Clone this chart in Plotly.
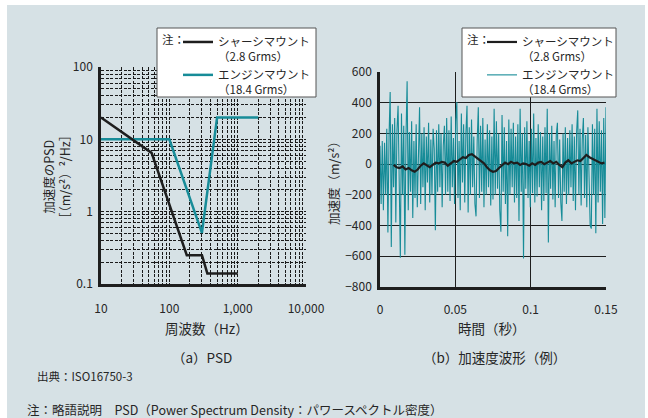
import plotly.graph_objects as go
import numpy as np

W, H = 648, 418


def px(x):
    return x / W


def py(y):
    return 1 - y / H


# ---------------- data ----------------
freq_chassis = [10, 55, 180, 300, 360, 1000]
psd_chassis = [20, 6.5, 0.25, 0.25, 0.14, 0.14]
freq_engine = [10, 100, 300, 500, 2000]
psd_engine = [10, 10, 0.51, 20, 20]

name_chassis = "シャーシマウント<br>（2.8 Grms）"
name_engine = "エンジンマウント<br>（18.4 Grms）"

psd_xticks = [10, 100, 1000, 10000]
psd_xticktext = ["10", "100", "1,000", "10,000"]
psd_yticks = [0.1, 1, 10, 100]
psd_yticktext = ["0.1", "1", "10", "100"]

# acceleration waveform (example), t from 0 to 0.15 s
engine_wave = [
    120, -260, 150, -300, 140, -200, 230, -445, 180, 470,
    -540, 260, -150, 300, -380, 220, 380, -250, -610, 330,
    -200, 250, -590, 180, 540, -300, 210, -180, 280, -350,
    150, -220, 260, -280, 120, 370, -260, 200, -150, 240,
    -300, 180, -120, 270, -250, 160, -200, 230, 100, -430,
    220, -180, 260, -150, 200, -280, 120, 250, -200, 300,
    -180, 220, -240, 310, -150, 170, -260, 280, 405, -220,
    150, -300, 330, -120, 260, -250, 200, 380, -315, 240,
    -200, 290, -150, 180, -260, -340, 150, 370, -220, 250,
    -180, 300, -280, 160, -200, 260, -150, 220, -270, 180,
    -230, 360, -200, 280, -160, 200, -300, -440, 320, -180,
    240, -260, 150, -470, 290, -200, 230, -150, 270, -250,
    180, -220, 260, -370, 360, -180, 200, -614, 240, -160,
    280, -220, 150, -280, 230, -190, 330, -250, 170, -210,
    260, -150, 210, -300, 180, -240, 240, -190, 360, -510,
    200, -160, 250, -230, 150, -280, 190, 270, -220, 160,
    -250, -370, 200, -180, 240, -260, 170, -200, 220, -150,
    260, -240, 180, -300, 210, 350, -200, 230, -270, 160,
    300, -220, 190, -280, 240, -150, -400, -420, 260, -200,
    230, -450, 360, -250, 280, -180, 220, -390, 300, -350,
    370,
]
chassis_wave = [
    -5, -20, -25, -15, -35, -25, -40, -50, -35, -10,
    5, -5, -20, -5, 10, 5, 15, 10, -10, 5,
    20, 15, 30, 45, 40, 60, 65, 50, 30, 20,
    5, -20, -40, -50, -45, -25, -5, 10, 0, 15,
    5, 10, -5, 5, 0, -10, 5, -5, 10, 15,
    0, 10, 20, 5, 15, -5, -20, 10, 25, 5,
    15, 25, 20, 40, 60, 45, 35, 25, 15, 5,
    10,
]
engine_t = np.linspace(0.0, 0.15, len(engine_wave))
chassis_t = np.linspace(0.009, 0.149, len(chassis_wave))

wave_xticks = [0, 0.05, 0.1, 0.15]
wave_xticktext = ["0", "0.05", "0.1", "0.15"]
wave_yticks = [-800, -600, -400, -200, 0, 200, 400, 600]
wave_yticktext = ["−800", "−600", "−400", "−200", "0", "200", "400", "600"]

# ---------------- style ----------------
FONT = "Noto Sans CJK JP"
TEAL = "#178c98"
BLACK = "#1e1e1e"
BG = "#d6e1e5"
PLOTBG = "#eef3f4"
TXT = "#262626"

fig = go.Figure()

# left: PSD
fig.add_trace(go.Scatter(x=freq_engine, y=psd_engine, mode="lines", name=name_engine,
                         line=dict(color=TEAL, width=2.5), xaxis="x", yaxis="y",
                         legend="legend", legendrank=2))
fig.add_trace(go.Scatter(x=freq_chassis, y=psd_chassis, mode="lines", name=name_chassis,
                         line=dict(color=BLACK, width=2.5), xaxis="x", yaxis="y",
                         legend="legend", legendrank=1))
# right: waveform
fig.add_trace(go.Scatter(x=engine_t, y=engine_wave, mode="lines", name=name_engine,
                         line=dict(color=TEAL, width=1.1), xaxis="x2", yaxis="y2",
                         legend="legend2", legendrank=2))
fig.add_trace(go.Scatter(x=chassis_t, y=chassis_wave, mode="lines", name=name_chassis,
                         line=dict(color=BLACK, width=2.2), xaxis="x2", yaxis="y2",
                         legend="legend2", legendrank=1))

psd_minor_x = [d * 10 ** k for k in (1, 2, 3) for d in range(2, 10)] + [100, 1000]
psd_minor_y = [d * 10 ** k for k in (-1, 0, 1) for d in range(1, 10) if d * 10 ** k > 0.1]

grid_dash = dict(showgrid=True, gridcolor="#1a1a1a", griddash="3px,1.5px", gridwidth=1, ticks="")

axis_common = dict(showline=True, linecolor=BLACK, linewidth=2.5, zeroline=False,
                   showgrid=False, tickfont=dict(family=FONT, size=12, color=TXT),
                   fixedrange=True, automargin=False)

legend_common = dict(xanchor="left", yanchor="top",
                     bgcolor="rgba(0,0,0,0)", borderwidth=0,
                     font=dict(family=FONT, size=11.5, color=TXT),
                     valign="top", itemwidth=30, tracegroupgap=0, traceorder="normal")

fig.update_layout(
    template="none",
    width=W, height=H,
    margin=dict(l=0, r=0, t=0, b=0, pad=0, autoexpand=False),
    paper_bgcolor="white",
    plot_bgcolor=PLOTBG,
    font=dict(family=FONT, size=12, color=TXT),
    xaxis=dict(type="log", range=[1, 4], domain=[px(101), px(306)], anchor="y",
               tickvals=psd_xticks, ticktext=psd_xticktext,
               ticks="outside", ticklen=12, tickcolor="rgba(0,0,0,0)",
               minor=dict(tickvals=psd_minor_x, **grid_dash), **axis_common),
    yaxis=dict(type="log", range=[-1, 2], domain=[py(284), py(67)], anchor="x",
               tickvals=psd_yticks, ticktext=psd_yticktext,
               ticks="outside", ticklen=3, tickcolor="rgba(0,0,0,0)",
               minor=dict(tickvals=psd_minor_y, **grid_dash), **axis_common),
    xaxis2=dict(range=[0, 0.15], domain=[px(380), px(606)], anchor="y2",
                tickvals=wave_xticks, ticktext=wave_xticktext,
                ticks="outside", ticklen=10, tickcolor="rgba(0,0,0,0)",
                minor=dict(tickvals=[0.05, 0.1], showgrid=True, gridcolor=BLACK,
                           gridwidth=1, ticks=""), **axis_common),
    yaxis2=dict(range=[-800, 600], domain=[py(287), py(72)], anchor="x2",
                tickvals=wave_yticks, ticktext=wave_yticktext,
                ticks="outside", ticklen=3, tickcolor="rgba(0,0,0,0)",
                minor=dict(tickvals=[-600, -400, -200, 0, 200, 400], showgrid=True,
                           gridcolor=BLACK, gridwidth=1, ticks=""), **axis_common),
    legend=dict(x=px(178), y=py(28), **legend_common),
    legend2=dict(x=px(482), y=py(28), **legend_common),
    shapes=[
        dict(type="rect", xref="paper", yref="paper", x0=px(7), x1=px(645),
             y0=0, y1=py(5), fillcolor=BG, line=dict(width=0), layer="below"),
        dict(type="rect", xref="paper", yref="paper", x0=px(157), x1=px(316),
             y0=py(97), y1=py(28), fillcolor="white",
             line=dict(color="#555555", width=1), layer="above"),
        dict(type="rect", xref="paper", yref="paper", x0=px(462), x1=px(616),
             y0=py(97), y1=py(28), fillcolor="white",
             line=dict(color="#555555", width=1), layer="above"),
    ],
)

ann = [
    dict(text="注：", x=px(160), y=py(39), xanchor="left", font=dict(size=11.5)),
    dict(text="注：", x=px(465), y=py(39), xanchor="left", font=dict(size=11.5)),
    dict(text="加速度のPSD<br>［（m/s²）²/Hz］", x=px(56), y=py(177), textangle=-90,
         font=dict(size=12.5)),
    dict(text="周波数（Hz）", x=px(207), y=py(328), font=dict(size=13.5)),
    dict(text="（a）PSD", x=px(202), y=py(357), font=dict(size=13.5)),
    dict(text="加速度（m/s²）", x=px(333), y=py(180), textangle=-90, font=dict(size=12.5)),
    dict(text="時間（秒）", x=px(492), y=py(328), font=dict(size=13.5)),
    dict(text="（b）加速度波形（例）", x=px(494), y=py(357), font=dict(size=13.5)),
    dict(text="出典：ISO16750-3", x=px(35), y=py(376), xanchor="left", font=dict(size=11.5)),
    dict(text="注：略語説明　PSD（Power Spectrum Density：パワースペクトル密度）",
         x=px(25), y=py(409), xanchor="left", font=dict(size=12.5)),
]
for a in ann:
    a.update(xref="paper", yref="paper", showarrow=False)
    a.setdefault("xanchor", "center")
    a["yanchor"] = "middle"
fig.update_layout(annotations=ann)

fig.write_html("out.html", config={"displayModeBar": False},
               post_script="document.body.style.margin='0';document.body.style.padding='0';")
